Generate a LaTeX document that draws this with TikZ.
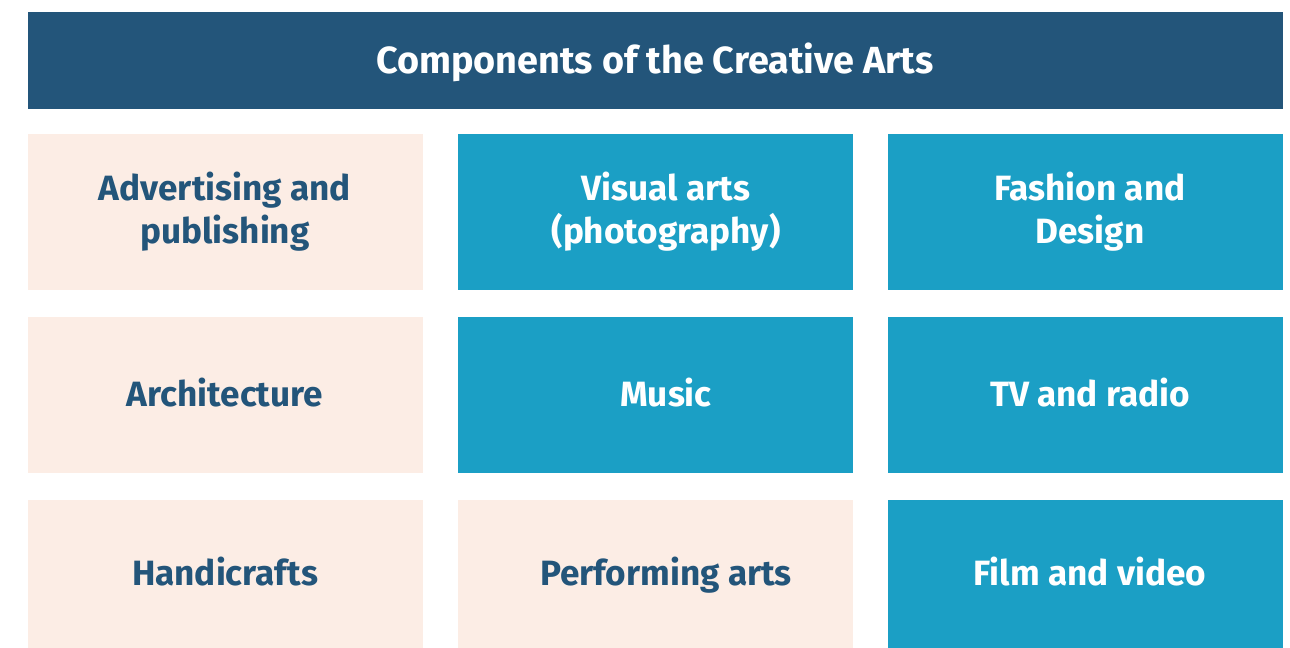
\documentclass[tikz,border=0pt]{standalone}
\usepackage{fontspec}
\setmainfont{Fira Sans}
\usetikzlibrary{positioning}
\definecolor{artnavy}{HTML}{23557A}
\definecolor{artblue}{HTML}{1B9FC5}
\definecolor{artpeach}{HTML}{FCEDE5}

\tikzset{
  tile/.style={minimum width=7.9cm, minimum height=3.12cm, inner sep=0pt},
  warmtile/.style={tile, fill=artpeach},
  cooltile/.style={tile, fill=artblue},
  caption/.style={inner sep=0pt, align=center, yshift=-0.05cm,
    font=\bfseries\fontsize{20}{24.5}\selectfont,
    execute at begin node=\strut, execute at end node=\strut},
  warmtext/.style={caption, text=artnavy},
  cooltext/.style={caption, text=white},
}

\begin{document}
\begin{tikzpicture}
  \useasboundingbox (0,0) rectangle (25.8,12.96);

  % ---------- title bar ----------
  \node[fill=artnavy, text=white, minimum width=25.1cm, minimum height=1.93cm,
    inner sep=0pt, text height=14.8pt, text depth=0pt,
    font=\bfseries\fontsize{21.5}{24}\selectfont]
    (title) at (13.1,11.75) {Components of the Creative Arts};

  % ---------- tiles ----------
  \node[warmtile] (advert)  at (4.5,8.72) {};
  \node[cooltile] (visual)  at (13.1,8.72) {};
  \node[cooltile] (fashion) at (21.7,8.72) {};

  \node[warmtile] (archi)   at (4.5,5.05) {};
  \node[cooltile] (music)   at (13.1,5.05) {};
  \node[cooltile] (tvradio) at (21.7,5.05) {};

  % bottom row runs to the lower edge
  \node[warmtile, minimum height=2.96cm] (handi)   at (4.5,1.48) {};
  \node[warmtile, minimum height=2.96cm] (perform) at (13.1,1.48) {};
  \node[cooltile, minimum height=2.96cm] (film)    at (21.7,1.48) {};

  % ---------- captions (middle and right columns sit a bit right of centre) ----------
  \node[warmtext] at (advert)  {Advertising and\\publishing};
  \node[cooltext] at ([xshift=0.22cm]visual.center)  {Visual arts\\(photography)};
  \node[cooltext] at ([xshift=0.1cm]fashion.center)  {Fashion and\\Design};

  \node[warmtext] at (archi)   {Architecture};
  \node[cooltext] at ([xshift=0.22cm]music.center)   {Music};
  \node[cooltext] at ([xshift=0.1cm]tvradio.center)  {TV and radio};

  \node[warmtext] at (handi)   {Handicrafts};
  \node[warmtext] at ([xshift=0.22cm]perform.center) {Performing arts};
  \node[cooltext] at ([xshift=0.1cm]film.center)     {Film and video};
\end{tikzpicture}
\end{document}
